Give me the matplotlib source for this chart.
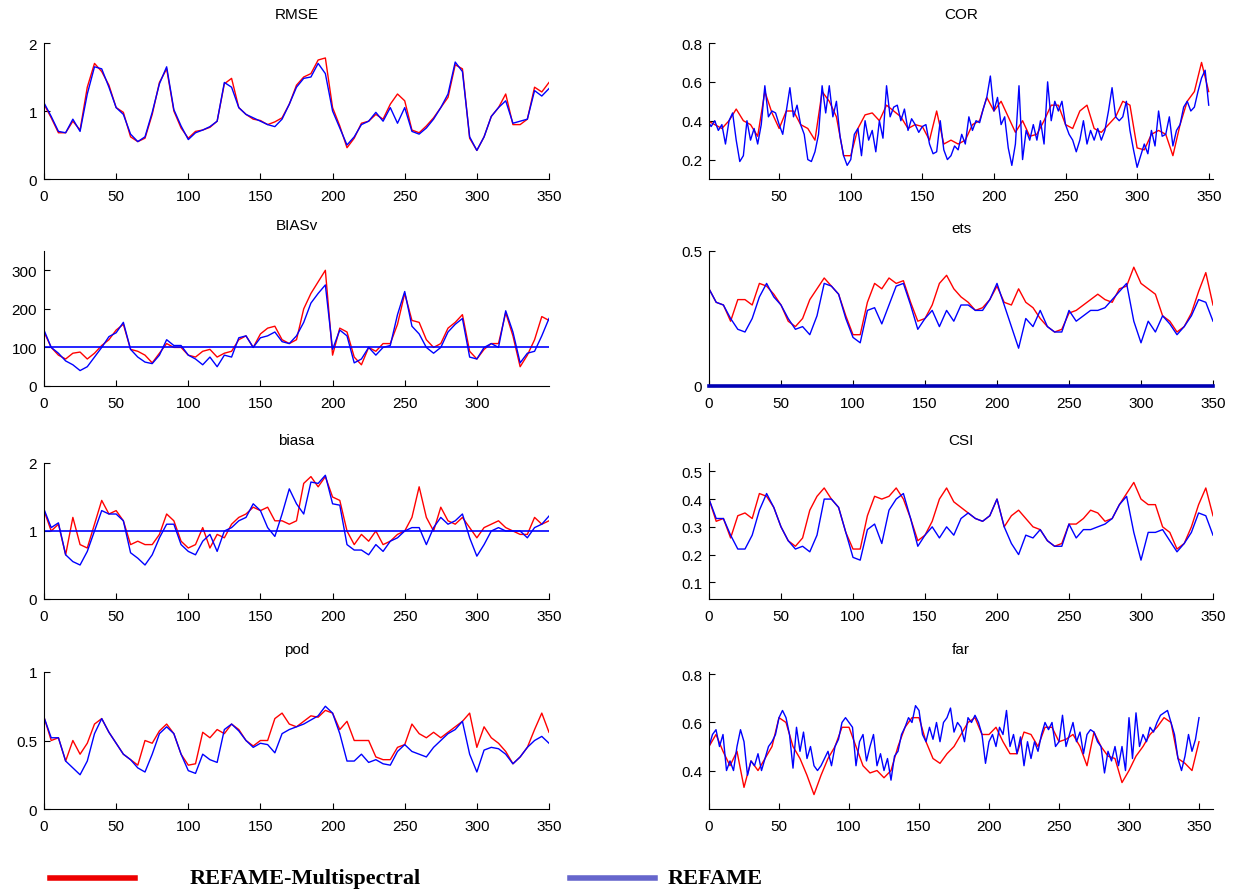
import numpy as np
import matplotlib
matplotlib.use("Agg")
import matplotlib.pyplot as plt
from matplotlib.lines import Line2D

# day index of the samples: every 5 days, every 2.5 days for the two noisiest blue curves
days = np.arange(0, 351, 5)
days_fine = np.arange(0, 350.1, 2.5)

# ---- RMSE
rmse_multi = [1.10, 0.90, 0.68, 0.68, 0.85, 0.72, 1.35, 1.70, 1.58, 1.38,
              1.05, 0.98, 0.62, 0.55, 0.60, 0.95, 1.42, 1.62, 1.00, 0.75,
              0.60, 0.70, 0.72, 0.76, 0.85, 1.40, 1.48, 1.05, 0.95, 0.88,
              0.86, 0.80, 0.84, 0.90, 1.10, 1.38, 1.50, 1.55, 1.75, 1.78,
              1.05, 0.78, 0.46, 0.60, 0.82, 0.85, 0.95, 0.88, 1.10, 1.25,
              1.15, 0.72, 0.68, 0.78, 0.90, 1.05, 1.20, 1.68, 1.62, 0.60,
              0.42, 0.62, 0.92, 1.05, 1.25, 0.80, 0.80, 0.88, 1.35, 1.28,
              1.42]
rmse_refame = [1.12, 0.92, 0.70, 0.68, 0.88, 0.70, 1.25, 1.65, 1.62, 1.35,
               1.05, 0.95, 0.66, 0.55, 0.62, 0.98, 1.40, 1.65, 1.02, 0.78,
               0.58, 0.68, 0.72, 0.77, 0.85, 1.42, 1.35, 1.05, 0.95, 0.90,
               0.85, 0.80, 0.77, 0.88, 1.10, 1.35, 1.48, 1.50, 1.70, 1.55,
               1.00, 0.75, 0.50, 0.62, 0.80, 0.85, 0.98, 0.85, 1.05, 0.82,
               1.05, 0.70, 0.66, 0.75, 0.88, 1.05, 1.25, 1.72, 1.58, 0.62,
               0.42, 0.62, 0.92, 1.05, 1.15, 0.82, 0.85, 0.88, 1.30, 1.22,
               1.33]

# ---- BIASv
biasv_multi = [140, 100, 80, 70, 85, 88, 70, 85, 105, 120,
               145, 160, 95, 90, 80, 60, 85, 110, 100, 100,
               80, 75, 90, 95, 75, 85, 90, 120, 130, 100,
               135, 150, 155, 120, 110, 120, 200, 240, 270, 300,
               80, 150, 140, 75, 55, 100, 90, 110, 110, 160,
               240, 170, 165, 120, 100, 110, 150, 165, 185, 90,
               70, 95, 110, 110, 190, 130, 50, 80, 120, 180,
               170]
biasv_refame = [145, 100, 85, 65, 55, 40, 50, 75, 100, 128,
                138, 165, 95, 75, 62, 58, 80, 120, 105, 105,
                80, 70, 55, 75, 50, 80, 75, 125, 130, 100,
                125, 130, 140, 115, 110, 130, 165, 215, 240, 262,
                95, 145, 130, 60, 70, 100, 80, 100, 105, 185,
                245, 155, 135, 100, 85, 100, 140, 160, 175, 75,
                70, 100, 110, 100, 195, 140, 60, 85, 90, 130,
                175]

# ---- biasa
biasa_multi = [1.30, 1.00, 1.10, 0.65, 1.20, 0.80, 0.75, 1.10, 1.45, 1.25,
               1.30, 1.15, 0.80, 0.85, 0.80, 0.80, 0.95, 1.25, 1.15, 0.85,
               0.75, 0.80, 1.05, 0.75, 0.95, 0.90, 1.10, 1.20, 1.25, 1.35,
               1.30, 1.35, 1.15, 1.15, 1.10, 1.15, 1.70, 1.80, 1.65, 1.80,
               1.50, 1.45, 1.00, 0.80, 0.95, 0.85, 1.00, 0.80, 0.85, 0.95,
               1.00, 1.20, 1.65, 1.20, 1.00, 1.35, 1.15, 1.10, 1.20, 1.05,
               0.90, 1.05, 1.10, 1.15, 1.05, 1.00, 0.95, 0.95, 1.20, 1.10,
               1.15]
biasa_refame = [1.32, 1.05, 1.12, 0.65, 0.55, 0.50, 0.70, 1.00, 1.30, 1.25,
                1.25, 1.15, 0.68, 0.60, 0.50, 0.65, 0.90, 1.10, 1.10, 0.80,
                0.70, 0.65, 0.85, 0.95, 0.70, 1.00, 1.05, 1.15, 1.20, 1.40,
                1.30, 1.05, 0.92, 1.25, 1.62, 1.40, 1.25, 1.72, 1.70, 1.82,
                1.40, 1.38, 0.80, 0.72, 0.72, 0.65, 0.80, 0.70, 0.85, 0.90,
                1.00, 1.05, 1.05, 0.80, 1.05, 1.20, 1.10, 1.15, 1.25, 0.90,
                0.63, 0.80, 1.00, 1.05, 1.00, 1.00, 1.00, 0.90, 1.05, 1.10,
                1.22]

# ---- pod
pod_multi = [0.67, 0.50, 0.52, 0.35, 0.50, 0.40, 0.48, 0.62, 0.66, 0.56,
             0.48, 0.40, 0.36, 0.32, 0.50, 0.48, 0.57, 0.62, 0.55, 0.40,
             0.32, 0.33, 0.56, 0.52, 0.58, 0.55, 0.62, 0.58, 0.50, 0.46,
             0.50, 0.50, 0.66, 0.70, 0.62, 0.60, 0.64, 0.68, 0.67, 0.72,
             0.70, 0.58, 0.64, 0.50, 0.50, 0.50, 0.38, 0.36, 0.36, 0.45,
             0.47, 0.62, 0.55, 0.52, 0.56, 0.52, 0.56, 0.60, 0.64, 0.70,
             0.45, 0.60, 0.52, 0.48, 0.42, 0.33, 0.38, 0.45, 0.58, 0.70,
             0.56]
pod_refame = [0.67, 0.52, 0.52, 0.35, 0.30, 0.25, 0.35, 0.55, 0.66, 0.56,
              0.48, 0.40, 0.36, 0.30, 0.27, 0.40, 0.55, 0.60, 0.55, 0.40,
              0.28, 0.26, 0.40, 0.36, 0.34, 0.58, 0.62, 0.57, 0.50, 0.45,
              0.48, 0.47, 0.41, 0.55, 0.58, 0.60, 0.62, 0.65, 0.68, 0.75,
              0.70, 0.55, 0.35, 0.35, 0.40, 0.34, 0.36, 0.33, 0.32, 0.42,
              0.47, 0.42, 0.40, 0.38, 0.45, 0.50, 0.55, 0.58, 0.64, 0.40,
              0.27, 0.43, 0.45, 0.44, 0.40, 0.33, 0.38, 0.45, 0.50, 0.53,
              0.48]

# ---- COR
cor_multi = [0.40, 0.38, 0.36, 0.40, 0.46, 0.40, 0.38, 0.32, 0.55, 0.44,
             0.36, 0.45, 0.45, 0.38, 0.36, 0.30, 0.55, 0.50, 0.42, 0.22,
             0.22, 0.36, 0.43, 0.44, 0.40, 0.48, 0.45, 0.42, 0.36, 0.38,
             0.37, 0.30, 0.45, 0.28, 0.30, 0.28, 0.30, 0.38, 0.40, 0.52,
             0.45, 0.50, 0.42, 0.34, 0.40, 0.32, 0.33, 0.40, 0.48, 0.48,
             0.38, 0.36, 0.45, 0.48, 0.36, 0.34, 0.38, 0.42, 0.50, 0.48,
             0.26, 0.25, 0.33, 0.35, 0.33, 0.22, 0.38, 0.50, 0.55, 0.70,
             0.55]
cor_refame = [0.40, 0.37, 0.40, 0.35, 0.38, 0.28, 0.40, 0.44, 0.30, 0.19,
              0.22, 0.40, 0.30, 0.36, 0.28, 0.38, 0.58, 0.42, 0.45, 0.44,
              0.38, 0.33, 0.45, 0.57, 0.42, 0.48, 0.38, 0.33, 0.20, 0.19,
              0.24, 0.33, 0.58, 0.44, 0.58, 0.42, 0.50, 0.32, 0.22, 0.17,
              0.20, 0.33, 0.36, 0.22, 0.40, 0.30, 0.35, 0.24, 0.40, 0.31,
              0.58, 0.42, 0.47, 0.48, 0.40, 0.46, 0.35, 0.41, 0.38, 0.34,
              0.37, 0.38, 0.28, 0.23, 0.24, 0.40, 0.25, 0.20, 0.22, 0.27,
              0.25, 0.33, 0.28, 0.42, 0.35, 0.40, 0.39, 0.46, 0.52, 0.63,
              0.45, 0.52, 0.38, 0.42, 0.26, 0.17, 0.28, 0.58, 0.20, 0.35,
              0.30, 0.38, 0.30, 0.40, 0.28, 0.60, 0.40, 0.50, 0.45, 0.50,
              0.38, 0.33, 0.30, 0.24, 0.30, 0.40, 0.28, 0.35, 0.30, 0.36,
              0.30, 0.35, 0.45, 0.57, 0.42, 0.40, 0.42, 0.50, 0.35, 0.25,
              0.16, 0.22, 0.28, 0.23, 0.35, 0.27, 0.45, 0.32, 0.33, 0.42,
              0.27, 0.35, 0.38, 0.47, 0.50, 0.45, 0.47, 0.55, 0.62, 0.66,
              0.48]

# ---- ets
ets_multi = [0.36, 0.31, 0.30, 0.24, 0.32, 0.32, 0.30, 0.38, 0.37, 0.34,
             0.30, 0.24, 0.22, 0.25, 0.32, 0.36, 0.40, 0.37, 0.34, 0.26,
             0.19, 0.19, 0.31, 0.38, 0.36, 0.40, 0.38, 0.39, 0.31, 0.24,
             0.25, 0.30, 0.38, 0.41, 0.36, 0.33, 0.31, 0.28, 0.29, 0.32,
             0.37, 0.31, 0.30, 0.36, 0.31, 0.29, 0.25, 0.22, 0.20, 0.21,
             0.27, 0.28, 0.30, 0.32, 0.34, 0.32, 0.31, 0.36, 0.37, 0.44,
             0.38, 0.36, 0.34, 0.26, 0.24, 0.20, 0.22, 0.27, 0.35, 0.42,
             0.30]
ets_refame = [0.36, 0.31, 0.30, 0.25, 0.21, 0.20, 0.25, 0.33, 0.38, 0.33,
              0.30, 0.25, 0.21, 0.22, 0.19, 0.26, 0.38, 0.37, 0.34, 0.25,
              0.18, 0.16, 0.28, 0.29, 0.23, 0.30, 0.37, 0.38, 0.30, 0.21,
              0.25, 0.28, 0.22, 0.28, 0.24, 0.30, 0.30, 0.28, 0.28, 0.32,
              0.38, 0.30, 0.22, 0.14, 0.25, 0.22, 0.28, 0.22, 0.20, 0.20,
              0.28, 0.24, 0.26, 0.28, 0.28, 0.29, 0.32, 0.35, 0.38, 0.24,
              0.16, 0.24, 0.20, 0.26, 0.23, 0.19, 0.22, 0.26, 0.32, 0.31,
              0.24]

# ---- CSI
csi_multi = [0.40, 0.32, 0.33, 0.26, 0.34, 0.35, 0.33, 0.42, 0.41, 0.37,
             0.30, 0.25, 0.23, 0.26, 0.36, 0.41, 0.44, 0.40, 0.37, 0.28,
             0.22, 0.22, 0.34, 0.41, 0.40, 0.41, 0.44, 0.40, 0.33, 0.25,
             0.27, 0.32, 0.40, 0.44, 0.39, 0.37, 0.35, 0.33, 0.32, 0.34,
             0.40, 0.30, 0.34, 0.36, 0.33, 0.30, 0.29, 0.25, 0.23, 0.24,
             0.31, 0.31, 0.33, 0.36, 0.35, 0.32, 0.33, 0.38, 0.42, 0.46,
             0.40, 0.38, 0.38, 0.30, 0.28, 0.22, 0.24, 0.30, 0.38, 0.44,
             0.34]
csi_refame = [0.40, 0.33, 0.33, 0.27, 0.22, 0.22, 0.27, 0.36, 0.42, 0.37,
              0.30, 0.25, 0.22, 0.23, 0.21, 0.27, 0.40, 0.40, 0.37, 0.28,
              0.19, 0.18, 0.29, 0.31, 0.24, 0.36, 0.40, 0.42, 0.33, 0.23,
              0.27, 0.30, 0.26, 0.30, 0.27, 0.33, 0.35, 0.33, 0.32, 0.34,
              0.40, 0.30, 0.24, 0.20, 0.27, 0.26, 0.29, 0.25, 0.23, 0.23,
              0.31, 0.26, 0.29, 0.29, 0.30, 0.31, 0.33, 0.38, 0.41, 0.28,
              0.18, 0.28, 0.28, 0.29, 0.25, 0.21, 0.24, 0.28, 0.35, 0.34,
              0.27]

# ---- far
far_multi = [0.50, 0.55, 0.48, 0.42, 0.48, 0.33, 0.44, 0.40, 0.45, 0.50,
             0.62, 0.60, 0.50, 0.45, 0.38, 0.30, 0.38, 0.45, 0.50, 0.58,
             0.58, 0.50, 0.42, 0.39, 0.40, 0.37, 0.40, 0.50, 0.58, 0.62,
             0.62, 0.52, 0.45, 0.43, 0.47, 0.50, 0.55, 0.60, 0.62, 0.55,
             0.55, 0.58, 0.52, 0.47, 0.47, 0.56, 0.55, 0.50, 0.58, 0.58,
             0.52, 0.53, 0.55, 0.50, 0.42, 0.56, 0.50, 0.46, 0.45, 0.35,
             0.40, 0.46, 0.50, 0.55, 0.58, 0.62, 0.60, 0.45, 0.43, 0.40,
             0.52]
far_refame = [0.50, 0.55, 0.57, 0.50, 0.55, 0.40, 0.44, 0.40, 0.50, 0.57,
              0.52, 0.38, 0.44, 0.42, 0.47, 0.40, 0.45, 0.50, 0.52, 0.55,
              0.62, 0.65, 0.62, 0.55, 0.41, 0.58, 0.48, 0.56, 0.45, 0.50,
              0.42, 0.40, 0.42, 0.45, 0.48, 0.42, 0.50, 0.53, 0.60, 0.62,
              0.60, 0.58, 0.42, 0.52, 0.55, 0.44, 0.50, 0.55, 0.42, 0.47,
              0.40, 0.45, 0.36, 0.46, 0.48, 0.55, 0.58, 0.62, 0.60, 0.67,
              0.65, 0.55, 0.52, 0.58, 0.53, 0.60, 0.52, 0.60, 0.62, 0.66,
              0.56, 0.60, 0.58, 0.52, 0.62, 0.60, 0.63, 0.60, 0.55, 0.43,
              0.52, 0.55, 0.50, 0.58, 0.55, 0.65, 0.50, 0.55, 0.47, 0.54,
              0.42, 0.52, 0.45, 0.52, 0.48, 0.55, 0.60, 0.57, 0.60, 0.50,
              0.52, 0.63, 0.50, 0.55, 0.60, 0.52, 0.56, 0.47, 0.55, 0.57,
              0.56, 0.52, 0.50, 0.39, 0.48, 0.44, 0.50, 0.42, 0.50, 0.40,
              0.62, 0.45, 0.64, 0.50, 0.55, 0.52, 0.58, 0.56, 0.60, 0.63,
              0.64, 0.65, 0.60, 0.55, 0.45, 0.40, 0.46, 0.55, 0.48, 0.53,
              0.62]

RED = "#ff0000"
BLUE = "#0000ff"
W, H = 1235, 895

plt.rcParams['font.family'] = ['Liberation Sans', 'DejaVu Sans']
plt.rcParams['font.size'] = 11

fig = plt.figure(figsize=(W / 100, H / 100), dpi=100)


def add_panel(left, top, right, bottom):
    # axes box given in pixels of the final image
    return fig.add_axes([left / W, 1 - bottom / H, (right - left) / W, (bottom - top) / H])


def draw(ax, title, x_red, red, x_blue, blue, xlim, xticks, ylim, yticks,
         yticklabels=None, title_pad=14):
    ax.plot(x_red, red, color=RED, lw=1.0)
    ax.plot(x_blue, blue, color=BLUE, lw=1.0)
    ax.set_title(title, fontsize=11, pad=title_pad)
    ax.set_xlim(*xlim)
    ax.set_ylim(*ylim)
    ax.set_xticks(xticks)
    ax.set_yticks(yticks)
    if yticklabels is not None:
        ax.set_yticklabels(yticklabels)
    for side in ("top", "right"):
        ax.spines[side].set_visible(False)
    ax.tick_params(direction="in", length=4, width=0.8, labelsize=11)
    ax.tick_params(axis="x", pad=7)
    ax.tick_params(axis="y", pad=5)


LX0, LX1 = 44, 549
RX0, RX1 = 709, 1213
rows = [(44, 180), (252, 387), (464, 600), (673, 810)]
ticks50 = list(range(0, 351, 50))

ax = add_panel(LX0, rows[0][0], LX1, rows[0][1])
draw(ax, "RMSE", days, rmse_multi, days, rmse_refame, (0, 350), ticks50, (0, 2), [0, 1, 2],
     title_pad=18)

ax = add_panel(RX0, rows[0][0], RX1, rows[0][1])
draw(ax, "COR", days, cor_multi, days_fine, cor_refame, (1, 353), ticks50[1:],
     (0.1, 0.8), [0.2, 0.4, 0.6, 0.8], title_pad=18)

ax = add_panel(LX0, rows[1][0], LX1, rows[1][1])
draw(ax, "BIASv", days, biasv_multi, days, biasv_refame, (0, 350), ticks50[:-1],
     (0, 350), [0, 100, 200, 300], title_pad=16)
ax.axhline(100, color=BLUE, lw=1.2)

ax = add_panel(RX0, rows[1][0], RX1, rows[1][1])
draw(ax, "ets", days, ets_multi, days, ets_refame, (0, 350), ticks50, (0, 0.5), [0, 0.5],
     ["0", "0.5"])
ax.axhline(0, color="#0000b4", lw=2.6, clip_on=False, zorder=5)

ax = add_panel(LX0, rows[2][0], LX1, rows[2][1])
draw(ax, "biasa", days, biasa_multi, days, biasa_refame, (0, 350), ticks50, (0, 2), [0, 1, 2])
ax.axhline(1, color=BLUE, lw=1.2)

ax = add_panel(RX0, rows[2][0], RX1, rows[2][1])
draw(ax, "CSI", days, csi_multi, days, csi_refame, (0, 350), ticks50, (0.04, 0.53),
     [0.1, 0.2, 0.3, 0.4, 0.5])

ax = add_panel(LX0, rows[3][0], LX1, rows[3][1])
draw(ax, "pod", days, pod_multi, days, pod_refame, (0, 350), ticks50, (0, 1), [0, 0.5, 1],
     ["0", "0.5", "1"])

ax = add_panel(RX0, rows[3][0], RX1, rows[3][1])
draw(ax, "far", days, far_multi, days_fine, far_refame, (0, 360), ticks50, (0.24, 0.81),
     [0.4, 0.6, 0.8])

# legend strip under the panels
legend_font = dict(family=["Liberation Serif", "DejaVu Serif"], fontweight="bold", fontsize=16,
                   va="center")
y_leg = 1 - 879 / H
fig.add_artist(Line2D([50 / W, 135 / W], [y_leg, y_leg], color="#ee0000", lw=4))
fig.text(190 / W, y_leg, "REFAME-Multispectral", **legend_font)
fig.add_artist(Line2D([570 / W, 655 / W], [y_leg, y_leg], color="#6666cc", lw=4))
fig.text(668 / W, y_leg, "REFAME", **legend_font)

fig.savefig("out.png", dpi=100)
print("saved out.png")
